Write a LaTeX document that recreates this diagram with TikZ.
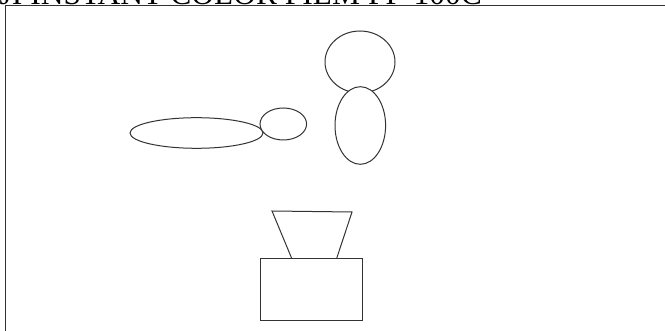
\documentclass[tikz,border=0pt]{standalone}
\usepackage{fontspec}
\setmainfont{Liberation Serif}
\usetikzlibrary{calc}

\begin{document}
\begin{tikzpicture}[
  x=0.5pt, y=-0.5pt,
  outline/.style={draw=black!80, line width=0.5pt},
  blob/.style={outline, fill=white},
  titletext/.style={anchor=base west, inner sep=0pt,
                    font=\fontsize{15.75}{18}\selectfont}
]
\useasboundingbox (0,0) rectangle (665,331);
\clip (0,0) rectangle (665,331);

% title, cut off by the top edge
\node[titletext] (title) at (-41,5) {FUJI INSTANT COLOR FILM FP-100C};

% frame
\draw[outline] (665,6) -- (5,6) -- (5,331);

% arm and hand
\draw[blob] (196.5,133) ellipse [x radius=66.5, y radius=15.3];
\draw[blob] (283.3,124) ellipse [x radius=23.3, y radius=16];

% head and body
\draw[blob] (360,62) ellipse [x radius=35, y radius=31];
\draw[blob] (360.3,125.5) ellipse [x radius=25.3, y radius=38.8];

% camera
\draw[outline] (291.7,258.3) -- (272,211) -- (352,212) -- (336.7,258.3);
\draw[blob] (260.7,258.3) rectangle (362.3,320.7);
\end{tikzpicture}
\end{document}
